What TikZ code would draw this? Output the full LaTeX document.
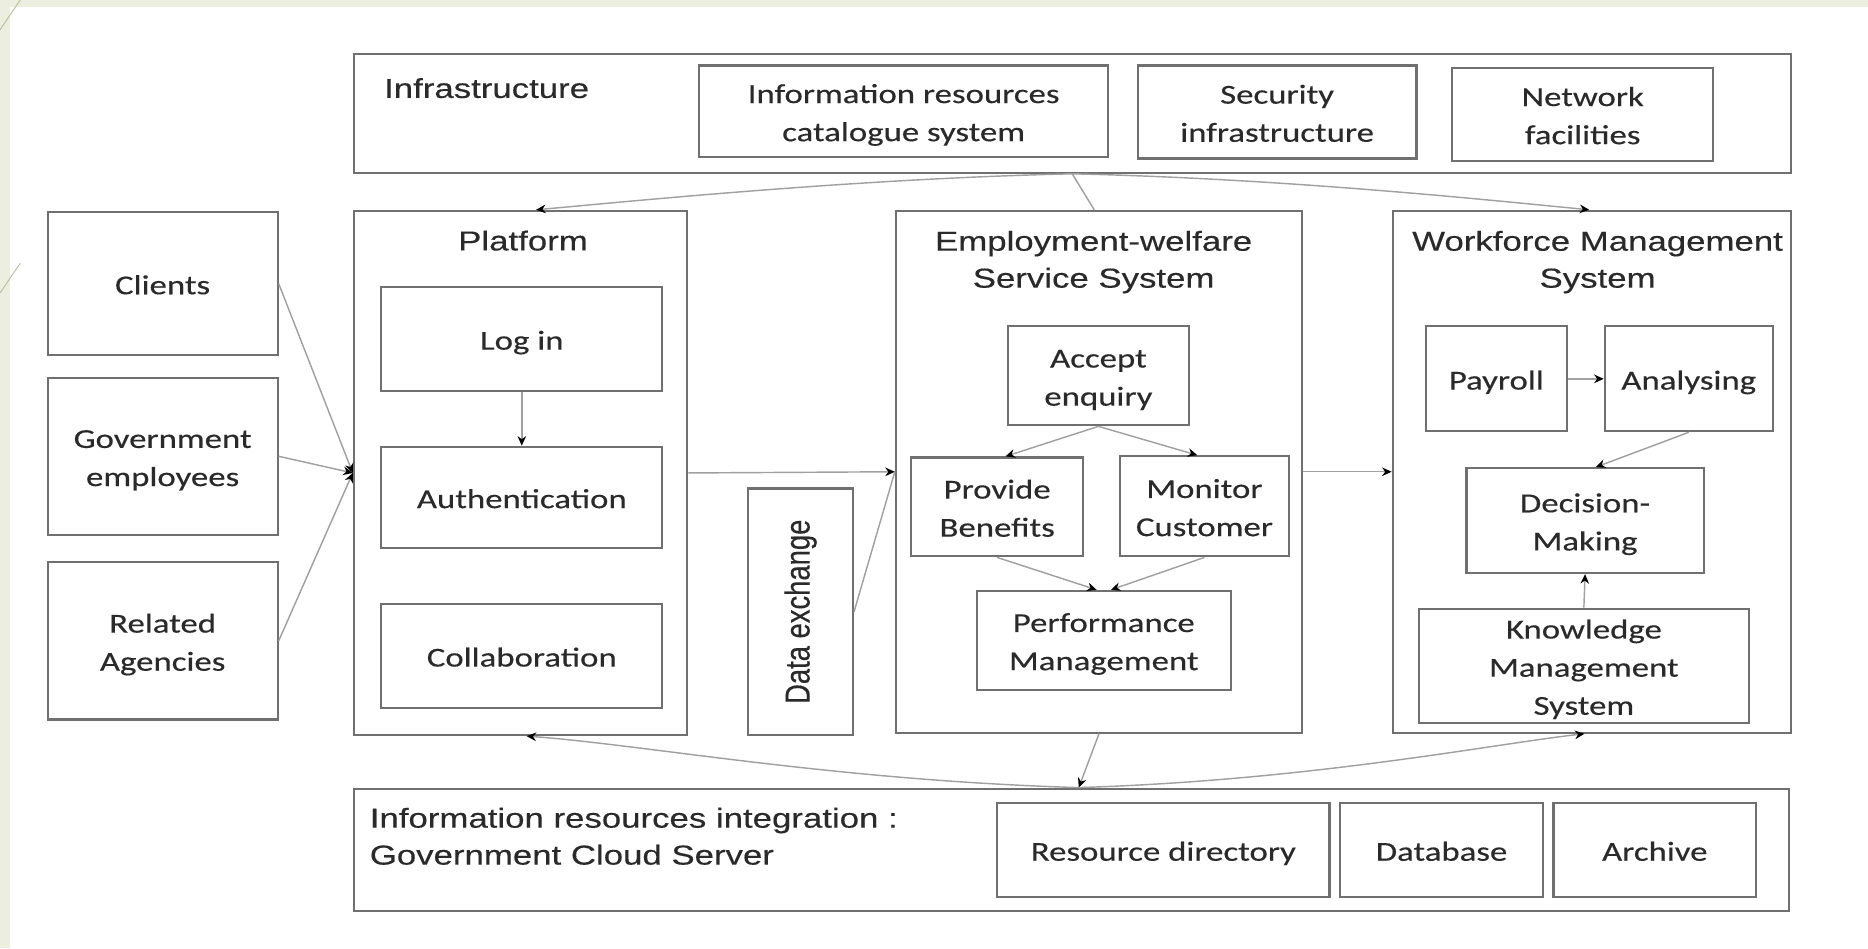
\documentclass[tikz,border=0pt]{standalone}
\usepackage{fontspec}
\setmainfont{Carlito}[FakeStretch=1.27,FakeBold=0.3]
\newfontfamily\arl{Liberation Sans}[FakeStretch=1.27,FakeBold=0.3]
\newfontfamily\arlplain{Liberation Sans}[FakeBold=0.3]
\usetikzlibrary{arrows.meta,calc}
\definecolor{bgg}{HTML}{ECEFDF}
\definecolor{deco}{HTML}{B9C0A0}
\definecolor{bline}{HTML}{707070}
\definecolor{cline}{HTML}{A0A0A0}
\definecolor{tcol}{HTML}{2A2A2A}
\newcommand\tx[1]{\raisebox{-1.3pt}[\height][\depth]{\begin{tabular}{@{}c@{}}#1\end{tabular}}}
\tikzset{
 box/.style={draw=bline, line width=0.9pt, inner sep=0pt, align=center, text=tcol, font=\fontsize{11.5}{16}\selectfont},
 title/.style={inner sep=0pt, align=center, text=tcol, font=\arl\fontsize{11.5}{15.5}\selectfont},
 conn/.style={draw=cline, line width=0.6pt},
 arr/.style={conn, -{Stealth[length=4pt,width=3.6pt,color=black]}},
}
\begin{document}
\begin{tikzpicture}[x=0.5pt,y=-0.5pt]
\useasboundingbox (0,0) rectangle (1568,796);
\fill[white] (0,0) rectangle (1568,796);
\fill[bgg] (0,0) rectangle (1568,6);
\fill[bgg] (0,0) rectangle (8,796);
\draw[deco, line width=0.4pt] (17,0) -- (0,25);
\draw[deco, line width=0.4pt] (17,221) -- (0,246);

% infrastructure
\node[box, minimum width=603pt, minimum height=50pt] (infra) at (900,95) {};
\node[title, anchor=west] (infratitle) at (322,74) {Infrastructure};
\node[box, minimum width=171.5pt, minimum height=38.5pt] (irc) at (758.5,93.5) {\tx{Information resources\\catalogue system}};
\node[box, minimum width=117pt, minimum height=39pt] (sec) at (1072,94) {\tx{Security\\infrastructure}};
\node[box, minimum width=109.5pt, minimum height=39pt] (net) at (1328.5,96) {\tx{Network\\facilities}};

% actors
\node[box, minimum width=96.5pt, minimum height=60pt] (clients) at (136.5,238) {\tx{Clients}};
\node[box, minimum width=96.5pt, minimum height=66pt] (gov) at (136.5,383) {\tx{Government\\employees}};
\node[box, minimum width=96.5pt, minimum height=66pt] (rel) at (136.5,538) {\tx{Related\\Agencies}};

% platform
\node[box, minimum width=140pt, minimum height=220pt] (platform) at (437,397) {};
\node[title] (plattitle) at (439,202) {Platform};
\node[box, minimum width=118pt, minimum height=43.5pt] (login) at (438,284.5) {\tx{Log in}};
\node[box, minimum width=118pt, minimum height=42.5pt] (auth) at (438,417.5) {\tx{Authentication}};
\node[box, minimum width=118pt, minimum height=43.5pt] (collab) at (438,550.5) {\tx{Collaboration}};

% data exchange
\node[box, minimum width=44pt, minimum height=103.5pt] (dataex) at (672,513.5) {\rotatebox{90}{\scalebox{1}[1.27]{\arlplain\fontsize{11.5}{15.5}\selectfont Data exchange}}};

% employment-welfare
\node[box, minimum width=170.5pt, minimum height=219pt] (emp) at (922.5,396) {};
\node[title] (emptitle) at (918,220) {Employment-welfare\\Service System};
\node[box, minimum width=76pt, minimum height=41.5pt] (accept) at (922,315.5) {\tx{Accept\\enquiry}};
\node[box, minimum width=72pt, minimum height=41.5pt] (provide) at (837,425.5) {\tx{Provide\\Benefits}};
\node[box, minimum width=71pt, minimum height=42pt] (monitor) at (1011,425) {\tx{Monitor\\Customer}};
\node[box, minimum width=106.5pt, minimum height=41.5pt] (perf) at (926.5,537.5) {\tx{Performance\\Management}};

% workforce
\node[box, minimum width=167pt, minimum height=219pt] (wf) at (1336,396) {};
\node[title] (wftitle) at (1341,220) {Workforce Management\\System};
\node[box, minimum width=59pt, minimum height=44pt] (payroll) at (1256,318) {\tx{Payroll}};
\node[box, minimum width=70.5pt, minimum height=44pt] (analys) at (1417.5,318) {\tx{Analysing}};
\node[box, minimum width=99.5pt, minimum height=44pt] (decision) at (1330.5,437) {\tx{Decision-\\Making}};
\node[box, minimum width=138.5pt, minimum height=45pt] (kms) at (1329.5,559) {\tx{Knowledge\\Management\\System}};

% cloud
\node[box, minimum width=602.5pt, minimum height=51.5pt] (cloud) at (899.5,713.5) {};
\node[title, anchor=west, align=left] (cloudtitle) at (310,702) {Information resources integration :\\Government Cloud Server};
\node[box, minimum width=139.5pt, minimum height=39.5pt] (resdir) at (976.5,713.5) {\tx{Resource directory}};
\node[box, minimum width=85pt, minimum height=39.5pt] (db) at (1210,713.5) {\tx{Database}};
\node[box, minimum width=85pt, minimum height=39.5pt] (archive) at (1389,713.5) {\tx{Archive}};

% connectors
\draw[arr] (clients.east) -- (platform.west);
\draw[arr] (gov.east) -- (platform.west);
\draw[arr] (rel.east) -- (platform.west);
\draw[arr] (login.south) -- (auth.north);
\draw[arr] (platform.east) -- (emp.west);
\draw[conn] (dataex.east) -- (emp.west);
\draw[arr] (emp.east) -- (wf.west);
\draw[arr] (accept.south) -- ($(provide.north)+(7,0)$);
\draw[arr] (accept.south) -- ($(monitor.north)+(-6,0)$);
\draw[arr] (provide.south) -- ($(perf.north)+(-6,0)$);
\draw[arr] (monitor.south) -- ($(perf.north)+(6,0)$);
\draw[arr] (payroll.east) -- (analys.west);
\draw[arr] (analys.south) -- ($(decision.north)+(9,0)$);
\draw[arr] (kms.north) -- (decision.south);
\draw[arr] (infra.south) .. controls (720,150) and (540,168) .. ($(platform.north)+(13,0)$);
\draw[conn] (infra.south) -- ($(emp.north)+(-4,0)$);
\draw[arr] (infra.south) .. controls (1080,150) and (1250,168) .. ($(wf.north)+(-2,0)$);
\draw[arr] ($(cloud.north)+(6,0)$) .. controls (700,655) and (540,625) .. ($(platform.south)+(5,0)$);
\draw[arr] (emp.south) -- ($(cloud.north)+(6,0)$);
\draw[arr] ($(cloud.north)+(6,0)$) .. controls (1100,655) and (1250,625) .. ($(wf.south)+(-6,0)$);
\end{tikzpicture}
\end{document}
